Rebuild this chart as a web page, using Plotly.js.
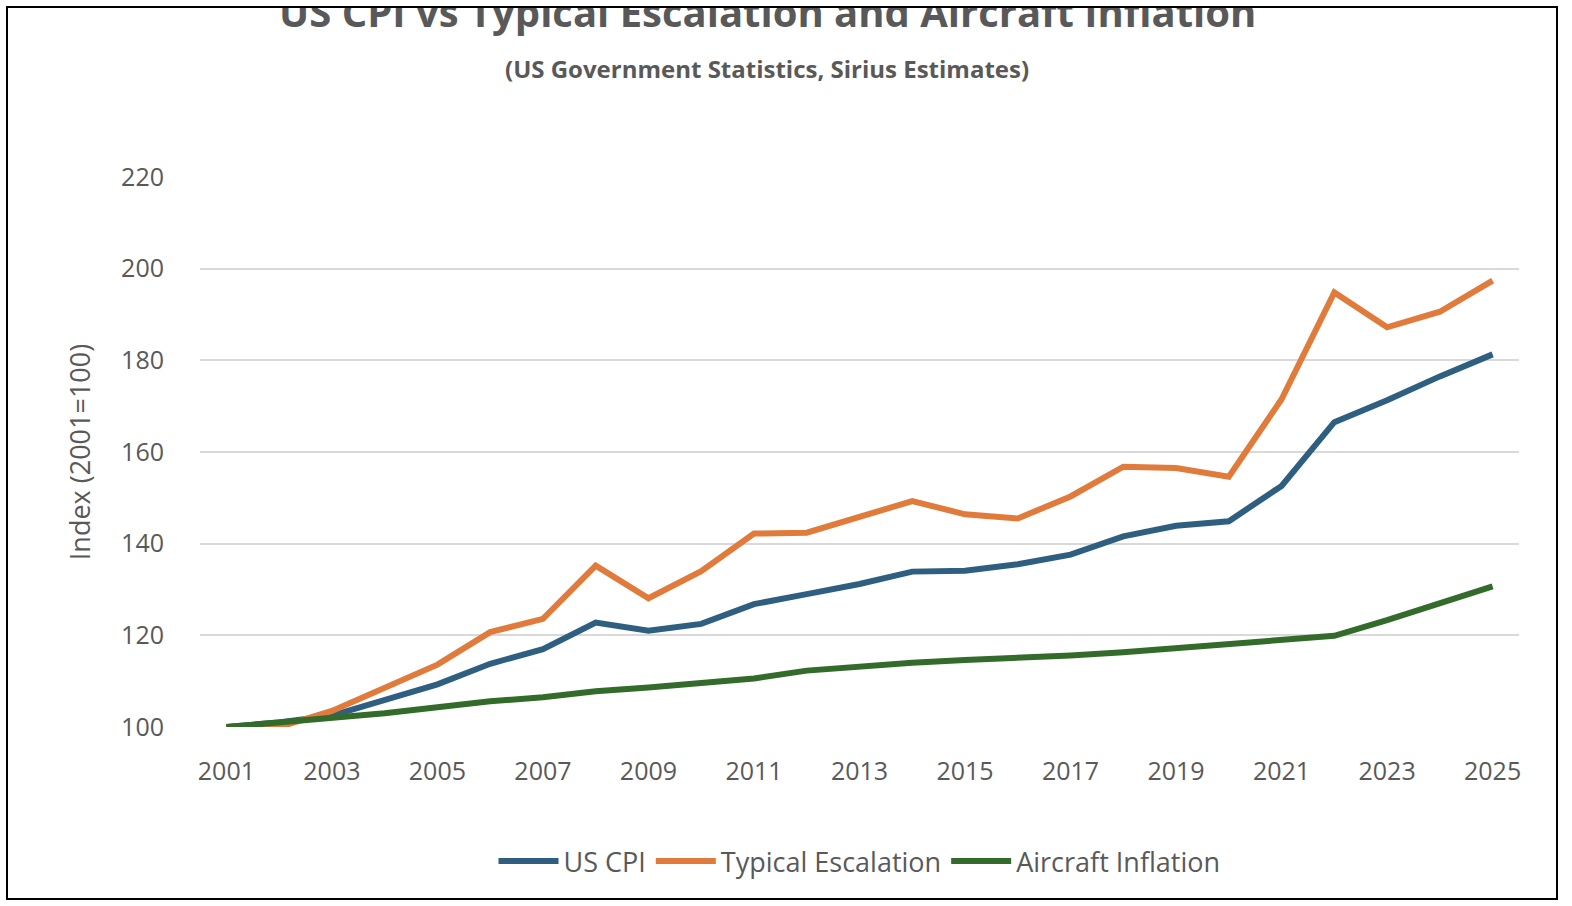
<!DOCTYPE html>
<html><head><meta charset="utf-8">
<script src="https://cdn.plot.ly/plotly-3.0.1.min.js"></script>
<style>body{margin:0;background:#fff}#c{position:absolute;left:6px;top:6px;width:1548px;height:890px;border:2px solid #000}</style>
</head><body><div id="c"></div>
<script>
const years=[2001,2002,2003,2004,2005,2006,2007,2008,2009,2010,2011,2012,2013,2014,2015,2016,2017,2018,2019,2020,2021,2022,2023,2024,2025];
const usCpi=[100,101,102.5,106,109.3,113.8,117,122.8,121,122.5,126.8,129,131.2,133.9,134.1,135.5,137.6,141.6,143.9,144.9,152.6,166.5,171.3,176.5,181.3];
const typical=[100,100,103.5,108.5,113.6,120.7,123.6,135.2,128.1,134,142.2,142.4,145.9,149.3,146.4,145.5,150.3,156.8,156.5,154.6,171.5,194.8,187.2,190.6,197.4];
const aircraft=[100,101,101.8,103,104.3,105.6,106.5,107.8,108.6,109.5,110.6,112.3,113.3,114,114.6,115,115.6,116.3,117.2,118.2,119.1,119.9,123.3,126.9,130.7];
const tickYears=[2001,2003,2005,2007,2009,2011,2013,2015,2017,2019,2021,2023,2025];
const f="'Open Sans', Lato, sans-serif";
const mk=(y,n,c)=>({x:years,y:y,name:n,type:'scatter',mode:'lines',line:{color:c,width:6}});
Plotly.newPlot('c',[mk(usCpi,'US CPI','#2e5f80'),mk(typical,'Typical Escalation','#e07b3c'),mk(aircraft,'Aircraft Inflation','#336b2a')],{
width:1548,height:890,margin:{l:192,r:37,t:169,b:163},
font:{family:f,color:'#595959',size:25},
annotations:[
{text:'<b>US CPI vs Typical Escalation and Aircraft Inflation</b>',xref:'paper',yref:'paper',x:0.43,y:1.3,xanchor:'center',yanchor:'middle',showarrow:false,font:{size:40,color:'#595959',family:f}},
{text:'<b>(US Government Statistics, Sirius Estimates)</b>',xref:'paper',yref:'paper',x:0.43,y:1.197,xanchor:'center',yanchor:'middle',showarrow:false,font:{size:24,color:'#595959',family:f}}],
xaxis:{range:[2000.5,2025.5],tickvals:tickYears,showgrid:false,zeroline:false,showline:false,ticks:'outside',ticklen:22,tickcolor:'rgba(0,0,0,0)'},
yaxis:{range:[100,220],dtick:20,gridcolor:'#d9d9d9',gridwidth:2,zeroline:false,showline:false,ticks:'outside',ticklen:30,tickcolor:'rgba(0,0,0,0)',title:{text:'Index (2001=100)',font:{size:27},standoff:22}},
legend:{orientation:'h',x:0.5,xanchor:'center',y:-0.2,yanchor:'top',font:{size:27},itemwidth:60,tracegroupgap:0,entrywidth:0},
showlegend:true},{displayModeBar:false});
</script></body></html>
